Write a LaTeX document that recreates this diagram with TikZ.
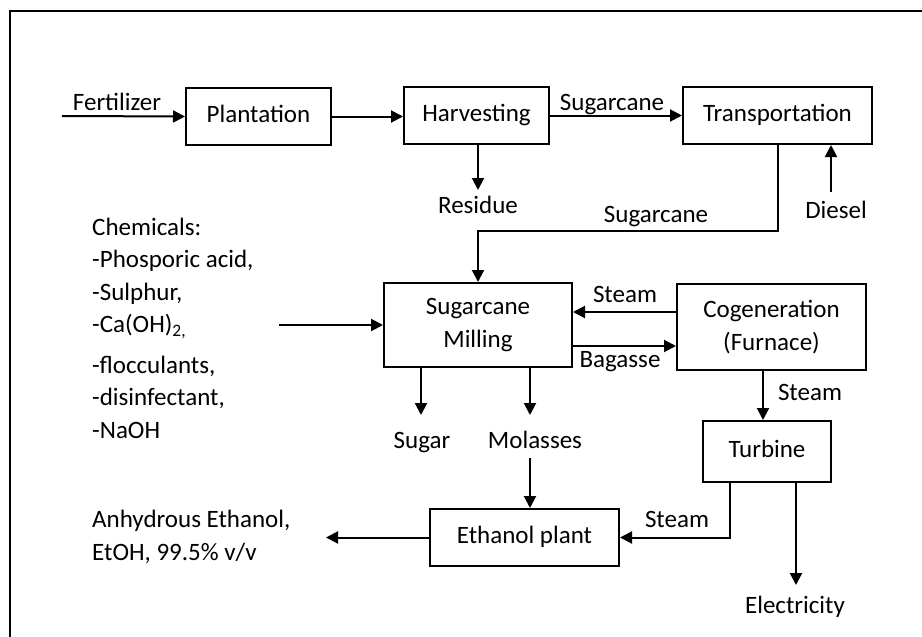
\documentclass[tikz,border=0pt]{standalone}
\usepackage{fontspec}
\setmainfont{Carlito}
\usetikzlibrary{arrows.meta}

\begin{document}
\begin{tikzpicture}[
  x=1pt, y=-1pt,
  font=\fontsize{25}{32.5}\selectfont,
  box/.style={draw, line width=2pt, align=center, inner sep=0pt},
  onebox/.style={box, text height=18pt, text depth=6pt},
  arr/.style={-{Triangle[length=12pt,width=12pt]}, line width=2pt},
  lbl/.style={anchor=base, inner sep=0pt},
  lst/.style={anchor=base west, align=left, inner sep=0pt},
]
\useasboundingbox (0,0) rectangle (922,637);

% frame
\draw[line width=2pt] (10,637) -- (10,11) -- (922,11);

% --- Upper row ---
\node[onebox, minimum width=145, minimum height=57] (plant) at (258.5,116.5) {Plantation};
\node[onebox, minimum width=145, minimum height=57] (harv) at (476.5,115.5) {Harvesting};
\node[onebox, minimum width=189, minimum height=57] (trans) at (777.5,115.5) {Transportation};

\coordinate (fert) at (62,116);
\draw[arr] (fert) -- (plant.west);
\node[lbl] at (117,110) {Fertilizer};

\draw[arr] (plant.east) -- (plant.east -| harv.west);
\draw[arr] (harv.east) -- (harv.east -| trans.west);
\node[lbl] at (612,110) {Sugarcane};

% Residue
\coordinate (resin) at (478,190);
\draw[arr] (harv.south -| resin) -- (resin);
\node[lbl] at (478,213) {Residue};

% Diesel
\coordinate (dieselin) at (831,192);
\draw[arr] (dieselin) -- (dieselin |- trans.south);
\node[lbl] at (836,218) {Diesel};

% --- Milling and cogeneration ---
\node[box, minimum width=188, minimum height=84] (mill) at (478,325) {Sugarcane\\Milling};
\node[box, minimum width=189, minimum height=86] (cogen) at (771.5,327) {Cogeneration\\(Furnace)};

\coordinate (bend) at (600,231);
\draw[arr] (trans.south) |- (bend) -| (mill.north);
\node[lbl] at (656,222) {Sugarcane};

% Chemicals
\node[lst] at (92,438) {Chemicals:\\-Phosporic acid,\\-Sulphur,\\-Ca(OH)\textsubscript{2,}\\[8pt]-flocculants,\\-disinfectant,\\-NaOH};
\coordinate (chemout) at (279,325);
\draw[arr] (chemout) -- (mill.west);

\draw[arr] ([yshift=15pt]cogen.west) -- ([yshift=15pt]cogen.west -| mill.east);
\node[lbl] at (625,302) {Steam};
\draw[arr] ([yshift=-21pt]mill.east) -- ([yshift=-21pt]mill.east -| cogen.west);
\node[lbl] at (620,367) {Bagasse};

% Sugar and molasses
\coordinate (sugarin) at (421,415);
\draw[arr] (mill.south -| sugarin) -- (sugarin);
\node[lbl] at (422,448) {Sugar};
\coordinate (molin) at (530,415);
\draw[arr] (mill.south -| molin) -- (molin);
\node[lbl] at (535,448) {Molasses};

% --- Lower row ---
\node[onebox, minimum width=128, minimum height=61] (turb) at (767,451.5) {Turbine};
\node[onebox, minimum width=189, minimum height=57] (ethanol) at (524.5,537.5) {Ethanol plant};

\draw[arr] ([xshift=-8.5pt]cogen.south) -- ([xshift=-8.5pt]cogen.south |- turb.north);
\node[lbl] at (810,400) {Steam};

\coordinate (molout) at (530,458);
\draw[arr] (molout) -- (molout |- ethanol.north);

\draw[arr] ([xshift=-37pt]turb.south) |- (ethanol.east);
\node[lbl] at (677,527) {Steam};

\coordinate (elecin) at (796,585);
\draw[arr] (turb.south -| elecin) -- (elecin);
\node[lbl] at (795,613) {Electricity};

% Product
\coordinate (prod) at (326,535);
\draw[arr] (ethanol.west) -- (ethanol.west -| prod);
\node[lst] at (92,560) {Anhydrous Ethanol,\\EtOH, 99.5\% v/v};

\end{tikzpicture}
\end{document}
